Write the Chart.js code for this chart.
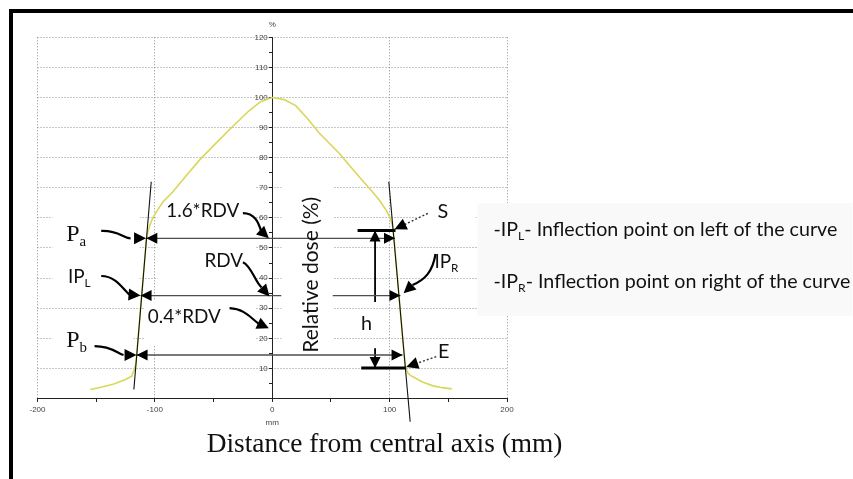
<!DOCTYPE html>
<html><head><meta charset="utf-8">
<script src="https://cdn.jsdelivr.net/npm/chart.js@4.4.1/dist/chart.umd.min.js"></script>
<style>
html,body{margin:0;padding:0;background:#fff;}
#wrap{position:relative;width:853px;height:479px;overflow:hidden;background:#fff;}
canvas{position:absolute;left:0;top:0;}
#frame{position:absolute;left:9px;top:9px;width:900px;height:500px;border-left:4px solid #000;border-top:4px solid #000;pointer-events:none;}
</style></head><body>
<div id="wrap"><canvas id="c" width="853" height="479"></canvas><div id="frame"></div></div>
<script>
// ---------------- data (axis units: mm, % dose) ----------------
const xTicks = [-200, -100, 0, 100, 200];
const yTicks = [10, 20, 30, 40, 50, 60, 70, 80, 90, 100, 110, 120];
const profileX = [-155,-145,-135,-125,-120,-119.5,-117.5,-116.0,-114.3,-112.4,-110.4,-108.7,-107.2,-105.5,-104,-102.5,-100.3,-97,-93,-85,-73,-62,-50,-34,-20,-10,0,10,20,30,40,57,74,84,91,97,100.5,102.7,104,106,107.9,109.8,111.6,113.3,115.5,118,121,128,137,145,153];
const profileY = [3.0,3.8,4.8,6.3,7.4,7.8,9.5,12,20,29,38,46,53,56,57.8,59.3,61,63,65.4,68.5,74.2,79.2,84,90.3,95.5,98.6,100,99.3,97.3,93,88.2,81.5,73.7,69.3,66,62.6,60,57.1,52,43,34.5,26,18,10.6,8.5,7.6,7.0,5.5,4.2,3.6,3.2];
const tangentLeftX = [-117.9, -103.1];
const tangentLeftY = [3.0, 72.0];
const tangentRightX = [117.5, 99.3];
const tangentRightY = [-7.7, 72.0];
const levelNames = ['1.6*RDV', 'RDV', '0.4*RDV'];
const levelY = [53.2, 34.2, 14.45];
const levelLeftX = [-107.3, -112.2, -115.6];
const levelRightX = [104.6, 109.2, 111.0];
const rdvGapX = [7.7, 51.5];
const shoulderBarX = [72.7, 105.0];
const shoulderBarY = 55.8;
const endBarX = [75.8, 114.1];
const endBarY = 10.1;
const hArrowX = 87.6;
const hUpperY = [55.8, 32.1];
const hLowerY = [16.7, 10.1];
// curved arrows: start, control1, control2, head base, head tip
const arrowPa   = [[-145.7,55.7],[-130.0,55.9],[-128.0,53.3],[-120.7,53.2],[-107.5,53.2]];
const arrowIPL  = [[-145.7,40.7],[-132.6,40.7],[-126.7,36.0],[-121.6,34.5],[-112.2,34.2]];
const arrowPb   = [[-151.4,17.4],[-136.9,17.4],[-131.8,15.0],[-126.7,14.45],[-115.6,14.45]];
const arrow16   = [[-25.0,61.6],[-15.1,61.6],[-11.7,58.6],[-9.5,55.6],[-2.9,53.2]];
const arrowRDV  = [[-25.0,45.3],[-17.6,44.0],[-15.1,39.0],[-9.1,36.9],[-2.3,33.9]];
const arrow04   = [[-36.4,30.0],[-23.6,29.7],[-19.3,27.1],[-11.7,24.9],[-2.9,23.3]];
const arrowIPR  = [[139.1,48.0],[136.6,42.0],[129.8,39.4],[119.5,37.7],[111.9,35.0]];
// dotted arrows: from, tip
const arrowS = [[132.6,61.5],[104.2,56.2]];
const arrowE = [[139.7,13.9],[114.2,10.5]];
// label anchors (axis units)
const labelPa = [-175.5, 52.2];
const labelPb = [-175.5, 17.2];
const labelIPL = [-174.1, 38.4];
const label16 = [-90.3, 60.4];
const labelRDV = [-57.7, 43.8];
const label04 = [-106.0, 25.0];
const labelRel = [33.2, 41.1];
const labelS = [145.3, 60.1];
const labelE = [146.1, 13.4];
const labelH = [80.4, 22.8];
const labelIPR = [138.2, 43.3];
const noteLines = [
  [['-IP',0],['L',1],['- Inflection point on left of the curve',0]],
  [['-IP',0],['R',1],['- Inflection point on right of the curve',0]]
];
const noteX = 188.5;
const noteY = [54.0, 36.8];
const xTitle = 'Distance from central axis (mm)';
const xTitlePos = [95.7, -17.8];
const yTitle = 'Relative dose (%)';
// blank patches of the pasted labels (x0, x1, y0, y1)
const coverBoxes = [
  [-187.2,-112.9,32.7,68.3],
  [-187.2,-118.2,12.1,25.4],
  [-97.7,-14.2,37.0,71.6],
  [-108.8,-14.2,17.8,32.7],
  [7.9,52.2,13.5,71.3],
  [125.6,173.3,57.3,67.3]
];
const noteBox = [174.9, 494.4, 27.4, 64.9];

// ---------------- helpers ----------------
const SANS = "Lato, 'Open Sans', sans-serif";
const SERIF = "'Liberation Serif', 'Times New Roman', serif";
const SUB = 0.62;
function pts(xs, ys) { return xs.map((x, i) => ({x: x, y: ys[i]})); }
function lineDs(data, color, width, extra) {
  return Object.assign({data: data, showLine: true, borderColor: color, backgroundColor: color,
    borderWidth: width, pointRadius: 0, pointHoverRadius: 0, tension: 0, fill: false}, extra || {});
}
function partsWidth(ctx, parts, size, family) {
  let w = 0;
  parts.forEach(([t, sub]) => { ctx.font = (sub ? size * SUB : size) + 'px ' + family; w += ctx.measureText(t).width; });
  return w;
}
function fitSize(ctx, parts, family, target) { return 100 * target / partsWidth(ctx, parts, 100, family); }
function drawParts(ctx, parts, x, y, size, family, align) {
  const w = partsWidth(ctx, parts, size, family);
  let cx = align === 'center' ? x - w / 2 : x;
  ctx.textAlign = 'left'; ctx.textBaseline = 'alphabetic';
  parts.forEach(([t, sub]) => {
    const s = sub ? size * SUB : size;
    ctx.font = s + 'px ' + family;
    ctx.fillText(t, cx, sub ? y + size * 0.2 : y);
    cx += ctx.measureText(t).width;
  });
}
function head(ctx, fx, fy, tx, ty, len, hw) {
  const a = Math.atan2(ty - fy, tx - fx);
  const bx = tx - len * Math.cos(a), by = ty - len * Math.sin(a);
  ctx.beginPath();
  ctx.moveTo(tx, ty);
  ctx.lineTo(bx + hw * Math.sin(a), by - hw * Math.cos(a));
  ctx.lineTo(bx - hw * Math.sin(a), by + hw * Math.cos(a));
  ctx.closePath(); ctx.fill();
}

const annot = {
  id: 'annot',
  beforeDatasetsDraw(chart) {
    const ctx = chart.ctx, X = v => chart.scales.x.getPixelForValue(v), Y = v => chart.scales.y.getPixelForValue(v);
    ctx.save();
    ctx.fillStyle = '#ffffff';
    coverBoxes.forEach(b => { ctx.fillRect(X(b[0]), Y(b[3]), X(b[1]) - X(b[0]), Y(b[2]) - Y(b[3])); });
    ctx.fillStyle = '#f9f9f9';
    ctx.fillRect(X(noteBox[0]), Y(noteBox[3]), X(noteBox[1]) - X(noteBox[0]), Y(noteBox[2]) - Y(noteBox[3]));
    ctx.restore();
  },
  afterDatasetsDraw(chart) {
    const ctx = chart.ctx, X = v => chart.scales.x.getPixelForValue(v), Y = v => chart.scales.y.getPixelForValue(v);
    ctx.save();
    ctx.fillStyle = '#000'; ctx.strokeStyle = '#000';
    // heads on the level lines
    levelY.forEach((y, i) => {
      head(ctx, X(levelLeftX[i]) + 5, Y(y), X(levelLeftX[i]), Y(y), 11, 5.5);
      head(ctx, X(levelRightX[i]) - 5, Y(y), X(levelRightX[i]), Y(y), 11, 5.5);
    });
    // h arrow heads
    head(ctx, X(hArrowX), Y(hUpperY[1]), X(hArrowX), Y(hUpperY[0]), 11, 5.5);
    head(ctx, X(hArrowX), Y(hLowerY[0]), X(hArrowX), Y(hLowerY[1]), 11, 5.5);
    // curved arrows
    [arrowPa, arrowIPL, arrowPb, arrow16, arrowRDV, arrow04, arrowIPR].forEach(a => {
      ctx.lineWidth = 2.2;
      ctx.beginPath();
      ctx.moveTo(X(a[0][0]), Y(a[0][1]));
      ctx.bezierCurveTo(X(a[1][0]), Y(a[1][1]), X(a[2][0]), Y(a[2][1]), X(a[3][0]), Y(a[3][1]));
      ctx.stroke();
      head(ctx, X(a[3][0]), Y(a[3][1]), X(a[4][0]), Y(a[4][1]), 12, 6);
    });
    // dotted arrows
    [arrowS, arrowE].forEach(a => {
      ctx.save();
      ctx.strokeStyle = '#333'; ctx.lineWidth = 1.4; ctx.setLineDash([2, 2]);
      ctx.beginPath(); ctx.moveTo(X(a[0][0]), Y(a[0][1])); ctx.lineTo(X(a[1][0]), Y(a[1][1])); ctx.stroke();
      ctx.restore();
      head(ctx, X(a[0][0]), Y(a[0][1]), X(a[1][0]), Y(a[1][1]), 12, 6);
    });
    // texts
    ctx.fillStyle = '#111';
    const cs = fitSize(ctx, [[levelNames[0], 0]], SANS, 73);
    drawParts(ctx, [['P', 0], ['a', 1]], X(labelPa[0]), Y(labelPa[1]), 24, SERIF, 'left');
    drawParts(ctx, [['P', 0], ['b', 1]], X(labelPb[0]), Y(labelPb[1]), 24, SERIF, 'left');
    drawParts(ctx, [['IP', 0], ['L', 1]], X(labelIPL[0]), Y(labelIPL[1]), cs, SANS, 'left');
    drawParts(ctx, [[levelNames[0], 0]], X(label16[0]), Y(label16[1]), cs, SANS, 'left');
    drawParts(ctx, [[levelNames[1], 0]], X(labelRDV[0]), Y(labelRDV[1]), cs, SANS, 'left');
    drawParts(ctx, [[levelNames[2], 0]], X(label04[0]), Y(label04[1]), cs, SANS, 'left');
    drawParts(ctx, [['S', 0]], X(labelS[0]), Y(labelS[1]), cs * 1.05, SANS, 'center');
    drawParts(ctx, [['E', 0]], X(labelE[0]), Y(labelE[1]), cs * 1.05, SANS, 'center');
    drawParts(ctx, [['h', 0]], X(labelH[0]), Y(labelH[1]), cs * 1.05, SANS, 'center');
    drawParts(ctx, [['IP', 0], ['R', 1]], X(labelIPR[0]), Y(labelIPR[1]), cs, SANS, 'left');
    // rotated y title
    const rs = fitSize(ctx, [[yTitle, 0]], SANS, 156);
    ctx.save();
    ctx.translate(X(labelRel[0]), Y(labelRel[1]));
    ctx.rotate(-Math.PI / 2);
    ctx.font = rs + 'px ' + SANS; ctx.textAlign = 'center'; ctx.textBaseline = 'middle';
    ctx.fillText(yTitle, 0, 0);
    ctx.restore();
    // notes
    const ns = fitSize(ctx, noteLines[1], SANS, 357);
    noteLines.forEach((p, i) => drawParts(ctx, p, X(noteX), Y(noteY[i]), ns, SANS, 'left'));
    // x title
    const ts = fitSize(ctx, [[xTitle, 0]], SERIF, 356);
    drawParts(ctx, [[xTitle, 0]], X(xTitlePos[0]), Y(xTitlePos[1]), ts, SERIF, 'center');
    // unit labels
    ctx.fillStyle = '#444'; ctx.font = "8px 'Liberation Sans', sans-serif"; ctx.textAlign = 'center'; ctx.textBaseline = 'middle';
    ctx.fillText('%', X(0), Y(120) - 13);
    ctx.fillText('mm', X(0), Y(0) + 24);
    ctx.restore();
  }
};

const datasets = [
  lineDs(pts(tangentLeftX, tangentLeftY), '#111', 1.1),
  lineDs(pts(tangentRightX, tangentRightY), '#111', 1.1, {clip: false}),
  lineDs(pts([levelLeftX[0], levelRightX[0]], [levelY[0], levelY[0]]), '#4d4d4d', 1.3),
  lineDs(pts([levelLeftX[1], rdvGapX[0]], [levelY[1], levelY[1]]), '#4d4d4d', 1.3),
  lineDs(pts([rdvGapX[1], levelRightX[1]], [levelY[1], levelY[1]]), '#4d4d4d', 1.3),
  lineDs(pts([levelLeftX[2], levelRightX[2]], [levelY[2], levelY[2]]), '#4d4d4d', 1.3),
  lineDs(pts(shoulderBarX, [shoulderBarY, shoulderBarY]), '#000', 3),
  lineDs(pts(endBarX, [endBarY, endBarY]), '#000', 3),
  lineDs(pts([hArrowX, hArrowX], hUpperY), '#000', 1.8),
  lineDs(pts([hArrowX, hArrowX], hLowerY), '#000', 1.8),
  lineDs(pts(profileX, profileY), '#d8d75a', 1.6)
];

const gridCol = '#8c8c8c';
new Chart(document.getElementById('c'), {
  type: 'scatter',
  data: {datasets: datasets},
  options: {
    responsive: false, animation: false, devicePixelRatio: 1, events: [],
    layout: {padding: {left: 37.5, right: 346, top: 37.3, bottom: 80.5}},
    plugins: {legend: {display: false}, tooltip: {enabled: false}},
    scales: {
      x: {
        type: 'linear', min: xTicks[0], max: xTicks[xTicks.length - 1], position: {y: 0},
        ticks: {stepSize: 50, autoSkip: false, maxRotation: 0, padding: 3, color: '#444',
          font: {size: 8, family: "'Liberation Sans', sans-serif"},
          callback: v => xTicks.includes(v) ? String(v) : ''},
        grid: {color: c => (c.tick && xTicks.includes(c.tick.value) && c.tick.value !== 0) ? gridCol : 'rgba(0,0,0,0)',
          lineWidth: 1, tickColor: '#222', tickLength: 3},
        border: {display: true, color: '#222', width: 1, dash: [1, 2]}
      },
      y: {
        type: 'linear', min: 0, max: yTicks[yTicks.length - 1], position: {x: 0},
        ticks: {stepSize: 5, autoSkip: false, padding: 2, color: '#444',
          font: {size: 8, family: "'Liberation Sans', sans-serif"},
          callback: v => yTicks.includes(v) ? String(v) + '  ' : ''},
        grid: {color: c => (c.tick && yTicks.includes(c.tick.value)) ? gridCol : 'rgba(0,0,0,0)',
          lineWidth: 1, tickColor: '#222', tickLength: 3},
        border: {display: true, color: '#222', width: 1, dash: [1, 2]}
      }
    }
  },
  plugins: [annot]
});
</script>
</body></html>
